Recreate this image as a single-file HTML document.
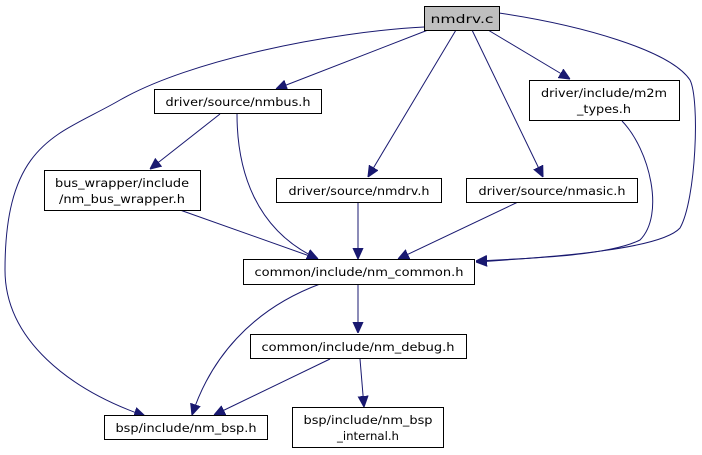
<!DOCTYPE html>
<html><head><meta charset="utf-8"><style>
html,body{margin:0;padding:0;background:#fff;}
svg{display:block;}
text{font-family:"DejaVu Sans","Liberation Sans",sans-serif;font-size:11.5px;fill:#000;}
</style></head><body>
<svg width="702" height="455" viewBox="0 0 702 455" xmlns="http://www.w3.org/2000/svg">
<defs>
<marker id="a" viewBox="0 0 10 10" refX="10" refY="5" markerWidth="11" markerHeight="11" markerUnits="userSpaceOnUse" orient="auto">
<path d="M0,0.5 L10,5 L0,9.5 z" fill="#191970" stroke="#191970"/>
</marker>
</defs>
<g fill="none" stroke="#191970" stroke-width="1" marker-end="url(#a)">
<path d="M428,30 L276,89"/>
<path d="M456,30 L368,177"/>
<path d="M472,30 L543,177"/>
<path d="M488,30 L570,79"/>
<path d="M424,27 C330,32 190,60 120,100 C60,135 5,140 5,270 C5,340 70,390 145,416"/>
<path d="M499,13 C580,25 670,50 690,80 C700,100 696,200 680,228 C660,250 550,257 476,262"/>
<path d="M622,121 C650,150 665,215 640,240 C610,255 540,258 476,261"/>
<path d="M220,114 L150,169"/>
<path d="M237,114 C237,170 255,230 318,259"/>
<path d="M180,210 L318,259"/>
<path d="M358,202 L358,259"/>
<path d="M518,202 L398,259"/>
<path d="M358,284 L358,333"/>
<path d="M320,284 C250,310 210,360 192,415"/>
<path d="M330,359 L214,415"/>
<path d="M360,359 L364,407"/>
</g>
<g stroke="#000" stroke-width="1">
<rect x="424.5" y="6.5" width="75" height="24" fill="#bfbfbf"/>
<rect x="154.5" y="89.5" width="167" height="24" fill="#fff"/>
<rect x="529.5" y="80.5" width="150" height="40" fill="#fff"/>
<rect x="44.5" y="170.5" width="156" height="40" fill="#fff"/>
<rect x="276.5" y="178.5" width="165" height="24" fill="#fff"/>
<rect x="466.5" y="178.5" width="171" height="24" fill="#fff"/>
<rect x="243.5" y="259.5" width="231" height="25" fill="#fff"/>
<rect x="250.5" y="334.5" width="216" height="24" fill="#fff"/>
<rect x="104.5" y="415.5" width="163" height="24" fill="#fff"/>
<rect x="292.5" y="407.5" width="151" height="40" fill="#fff"/>
</g>
<g text-anchor="middle">
<text x="462" y="23" textLength="63" lengthAdjust="spacingAndGlyphs">nmdrv.c</text>
<text x="238" y="106" textLength="145" lengthAdjust="spacingAndGlyphs">driver/source/nmbus.h</text>
<text x="604" y="97" textLength="126" lengthAdjust="spacingAndGlyphs">driver/include/m2m</text>
<text x="604" y="113" textLength="54" lengthAdjust="spacingAndGlyphs">_types.h</text>
<text x="122" y="187" textLength="134" lengthAdjust="spacingAndGlyphs">bus_wrapper/include</text>
<text x="122" y="203" textLength="126" lengthAdjust="spacingAndGlyphs">/nm_bus_wrapper.h</text>
<text x="359" y="195" textLength="141" lengthAdjust="spacingAndGlyphs">driver/source/nmdrv.h</text>
<text x="552" y="195" textLength="147" lengthAdjust="spacingAndGlyphs">driver/source/nmasic.h</text>
<text x="359" y="276" textLength="209" lengthAdjust="spacingAndGlyphs">common/include/nm_common.h</text>
<text x="358" y="351" textLength="193" lengthAdjust="spacingAndGlyphs">common/include/nm_debug.h</text>
<text x="186" y="432" textLength="141" lengthAdjust="spacingAndGlyphs">bsp/include/nm_bsp.h</text>
<text x="368" y="424" textLength="129" lengthAdjust="spacingAndGlyphs">bsp/include/nm_bsp</text>
<text x="368" y="440" textLength="62" lengthAdjust="spacingAndGlyphs">_internal.h</text>
</g>
</svg>
</body></html>
